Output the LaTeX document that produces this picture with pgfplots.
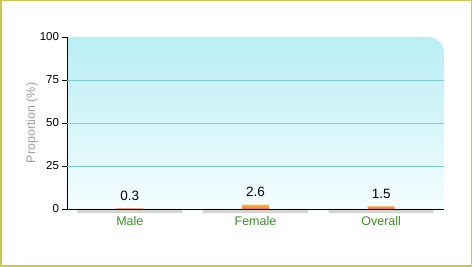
\documentclass[border=0pt]{standalone}
\usepackage{pgfplots}
\pgfplotsset{compat=1.18}
\usepackage{fontspec}
\setmainfont{Liberation Sans}
\definecolor{bgtop}{HTML}{B8EEF4}
\definecolor{bgbot}{HTML}{F5FDFE}
\definecolor{gridc}{HTML}{7DCAD2}
\definecolor{framec}{HTML}{C8C850}
\definecolor{lblgreen}{HTML}{3D8F2A}
\definecolor{barlight}{HTML}{F9B65E}
\definecolor{bardark}{HTML}{EE7A1A}
\definecolor{floorc}{HTML}{D4D4D4}
\begin{document}
\begin{tikzpicture}[x=1pt,y=1pt]
\fill[white] (0,0) rectangle (472,267);
\draw[framec, line width=1.5pt] (0.75,0.75) rectangle (471.25,266.25);
\shade[top color=bgtop, bottom color=bgbot] (67,58) -- (67,230) -- (428,230) arc[start angle=90,end angle=0,radius=16] -- (444,58) -- cycle;
\begin{axis}[
  at={(67pt,58pt)}, anchor=south west,
  width=377pt, height=172pt, scale only axis,
  xmin=-0.5, xmax=2.5, ymin=0, ymax=100,
  axis x line=bottom, axis y line=left,
  axis line style={-, black},
  axis on top,
  clip=false,
  xtick={0,1,2}, xticklabels={Male,Female,Overall},
  x tick label style={text=lblgreen, font=\fontsize{12.5}{14}\selectfont, yshift=0.5pt},
  x tick style={draw=none},
  extra x ticks={0.5,1.5,2.5}, extra x tick labels={},
  extra x tick style={tick align=inside, major tick length=4pt, tick style={black, draw=black}},
  ytick={0,25,50,75,100},
  y tick style={black},
  tick align=outside, major tick length=4.5pt,
  y tick label style={font=\fontsize{11.5}{12}\selectfont},
  /pgf/number format/assume math mode=true,
  extra y ticks={25,50,75}, extra y tick labels={},
  extra y tick style={ymajorgrids=true, major tick length=0pt, major grid style={gridc, line width=0.8pt}},
  ylabel={Proportion (\%)},
  ylabel style={text=gray!75, font=\fontsize{12.5}{14}\selectfont, at={(axis description cs:-0.093,0.5)}, anchor=center},
]
\addplot[ybar, bar width=105pt, bar shift=0pt, fill=floorc, draw=none] coordinates {(0,-2.4) (1,-2.4) (2,-2.4)};
\addplot[ybar, bar width=27pt, bar shift=0pt, draw=none, top color=barlight, bottom color=bardark,
  nodes near coords, point meta=explicit symbolic,
  nodes near coords style={text=black, font=\fontsize{13.5}{15}\selectfont, anchor=base, inner sep=0pt, yshift=8pt}]
  coordinates {(0,0.3) [0.3] (1,2.6) [2.6] (2,1.5) [1.5]};
\end{axis}
\end{tikzpicture}
\end{document}
